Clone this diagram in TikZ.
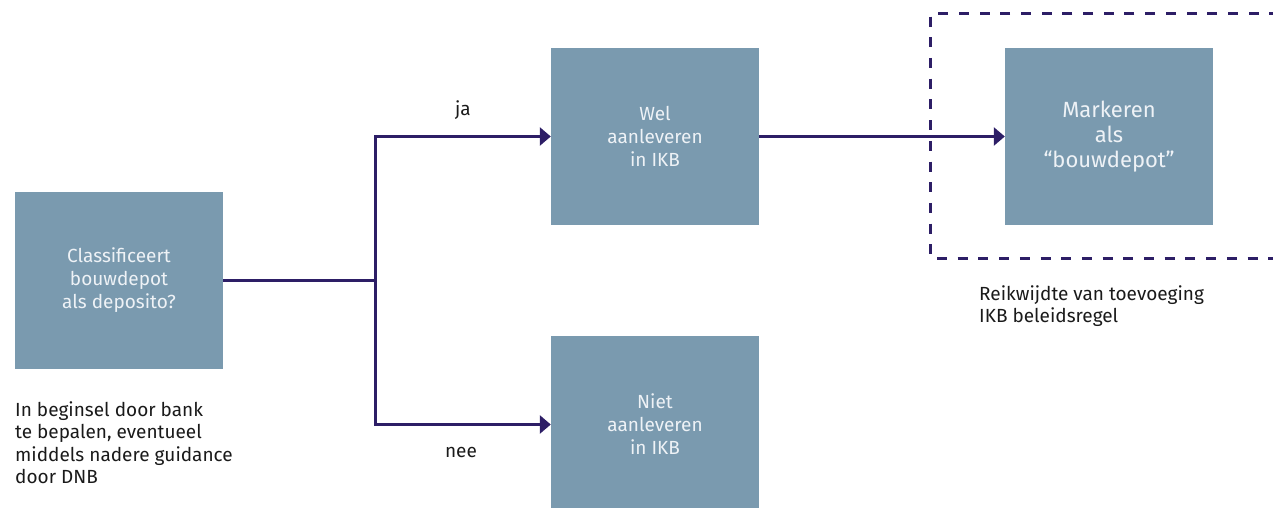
\documentclass[tikz,border=0pt]{standalone}
\usepackage{fontspec}
\setmainfont{Fira Sans}
\usetikzlibrary{arrows.meta}
\definecolor{boxfill}{HTML}{7A9AAF}
\definecolor{linecol}{HTML}{2D1E66}
\definecolor{boxtext}{HTML}{EEF2F6}
\definecolor{plaintext}{HTML}{1A1A1A}
\tikzset{
  procbox/.style={rectangle, fill=boxfill, minimum width=208pt, minimum height=177pt,
    inner sep=0pt, text=boxtext, align=center, font=\fontsize{19pt}{23pt}\selectfont},
  flow/.style={draw=linecol, line width=3pt, -{Triangle[length=11pt,width=18pt]}},
  note/.style={inner sep=0pt, text=plaintext, align=left, font=\fontsize{19pt}{22.5pt}\selectfont},
  lbl/.style={inner sep=0pt, text=plaintext, font=\fontsize{19pt}{22.5pt}\selectfont},
  scope/.style={draw=linecol, line width=3pt, dash pattern=on 10pt off 10.7pt}
}
\begin{document}
\begin{tikzpicture}[x=1pt,y=-1pt]
\useasboundingbox (0,0) rectangle (1273,508);
\clip (0,0) rectangle (1273,508);
\node[procbox] (cls) at (119,280.5) {Classificeert\\bouwdepot\\als deposito?};
\node[procbox] (wel) at (655,136.5) {Wel\\aanleveren\\in IKB};
\node[procbox] (niet) at (655,424.5) {Niet\\aanleveren\\in IKB};
\node[procbox, font=\fontsize{22pt}{25pt}\selectfont] (mark) at (1109,136.5) {Markeren\\als\\“bouwdepot”};
\draw[scope] (1300,14) -- (930,14) -- (930,258) -- (1300,258);
\coordinate (split) at (375,280.5);
\draw[flow] (cls.east) -- (split) |- (wel.west);
\draw[flow] (split) |- (niet.west);
\draw[flow] (wel.east) -- (mark.west);
\node[lbl] (ja) at (463,110) {ja};
\node[lbl] (nee) at (461,452) {nee};
\node[note, anchor=north west] (n1) at (15,401) {In beginsel door bank\\te bepalen, eventueel\\middels nadere guidance\\door DNB};
\node[note, anchor=north west] (n2) at (979,285) {Reikwijdte van toevoeging\\IKB beleidsregel};
\end{tikzpicture}
\end{document}
